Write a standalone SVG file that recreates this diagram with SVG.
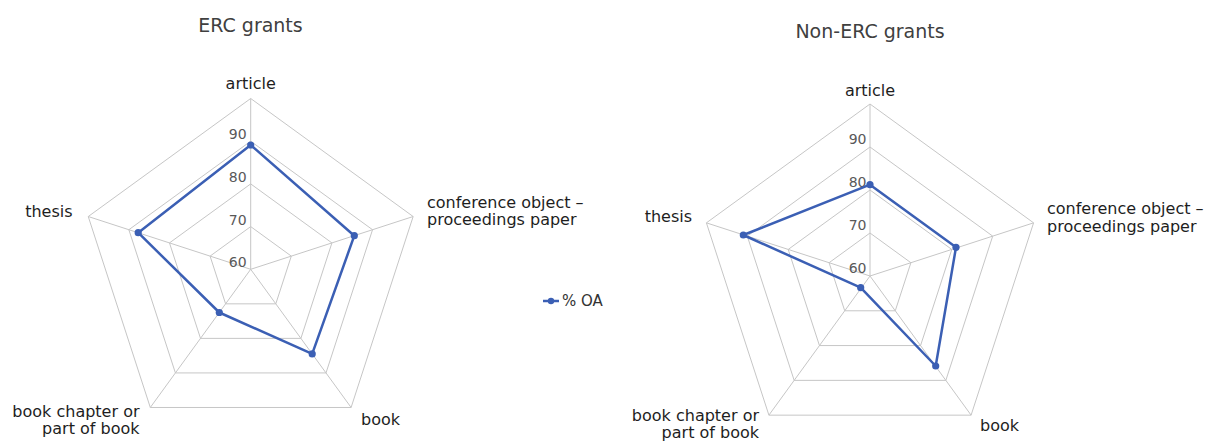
<svg xmlns="http://www.w3.org/2000/svg" width="1209" height="442" viewBox="0 0 1209 442">
<style>
.grid{fill:none;stroke:#c6c6c6;stroke-width:1}
.series{fill:none;stroke:#3b5fb4;stroke-width:2.5;stroke-linejoin:round}
.dot{fill:#3b5fb4}
.title{font-family:"DejaVu Sans",sans-serif;font-size:19px;fill:#404040;text-anchor:middle}
.cat{font-family:"DejaVu Sans",sans-serif;font-size:16px;fill:#1e1e1e}
.ax{font-family:"DejaVu Sans",sans-serif;font-size:14px;fill:#595959;text-anchor:end}
.leg{font-family:"DejaVu Sans",sans-serif;font-size:15px;fill:#333333}
</style>
<rect width="1209" height="442" fill="#ffffff"/>

<g id="chart-erc">
  <text class="title" x="250.5" y="32">ERC grants</text>
  <g transform="translate(250.7,269.3)">
    <g class="grid">
      <polygon points="0,-42.7 40.61,-13.19 25.10,34.54 -25.10,34.54 -40.61,-13.19"/>
      <polygon points="0,-85.4 81.22,-26.39 50.20,69.09 -50.20,69.09 -81.22,-26.39"/>
      <polygon points="0,-128.1 121.84,-39.58 75.30,103.63 -75.30,103.63 -121.84,-39.58"/>
      <polygon points="0,-170.8 162.45,-52.78 100.40,138.18 -100.40,138.18 -162.45,-52.78"/>
      <line x1="0" y1="0" x2="0" y2="-170.8"/>
      <line x1="0" y1="0" x2="162.45" y2="-52.78"/>
      <line x1="0" y1="0" x2="100.40" y2="138.18"/>
      <line x1="0" y1="0" x2="-100.40" y2="138.18"/>
      <line x1="0" y1="0" x2="-162.45" y2="-52.78"/>
    </g>
    <text class="ax" x="-4" y="-2">60</text>
    <text class="ax" x="-4" y="-44.5">70</text>
    <text class="ax" x="-4" y="-87.2">80</text>
    <text class="ax" x="-4" y="-130">90</text>
    <g id="series-erc">
      <polygon class="series" points="0,-124.3 103.6,-33.6 61.5,84.6 -31.4,43.2 -112.5,-36.6"/>
      <circle class="dot" cx="0" cy="-124.3" r="3.6"/>
      <circle class="dot" cx="103.6" cy="-33.6" r="3.6"/>
      <circle class="dot" cx="61.5" cy="84.6" r="3.6"/>
      <circle class="dot" cx="-31.4" cy="43.2" r="3.6"/>
      <circle class="dot" cx="-112.5" cy="-36.6" r="3.6"/>
    </g>
  </g>
  <text class="cat" x="250.7" y="89" text-anchor="middle">article</text>
  <text class="cat" x="427" y="208">conference object –</text>
  <text class="cat" x="427" y="225">proceedings paper</text>
  <text class="cat" x="361" y="425">book</text>
  <text class="cat" x="139.5" y="416.5" text-anchor="end">book chapter or</text>
  <text class="cat" x="139.5" y="434" text-anchor="end">part of book</text>
  <text class="cat" x="72.5" y="217" text-anchor="end">thesis</text>
</g>

<g id="chart-non-erc">
  <text class="title" x="870" y="38">Non-ERC grants</text>
  <g transform="translate(870,276)">
    <g class="grid">
      <polygon points="0,-43 40.90,-13.29 25.28,34.79 -25.28,34.79 -40.90,-13.29"/>
      <polygon points="0,-86 81.79,-26.57 50.55,69.57 -50.55,69.57 -81.79,-26.57"/>
      <polygon points="0,-129 122.69,-39.86 75.83,104.36 -75.83,104.36 -122.69,-39.86"/>
      <polygon points="0,-172 163.59,-53.15 101.10,139.15 -101.10,139.15 -163.59,-53.15"/>
      <line x1="0" y1="0" x2="0" y2="-172"/>
      <line x1="0" y1="0" x2="163.59" y2="-53.15"/>
      <line x1="0" y1="0" x2="101.10" y2="139.15"/>
      <line x1="0" y1="0" x2="-101.10" y2="139.15"/>
      <line x1="0" y1="0" x2="-163.59" y2="-53.15"/>
    </g>
    <text class="ax" x="-3.5" y="-2.7">60</text>
    <text class="ax" x="-3.5" y="-45.7">70</text>
    <text class="ax" x="-3.5" y="-88.7">80</text>
    <text class="ax" x="-3.5" y="-131.7">90</text>
    <g id="series-non-erc">
      <polygon class="series" points="0,-91.3 86,-28.7 65.7,90 -9.3,11.7 -126.7,-41"/>
      <circle class="dot" cx="0" cy="-91.3" r="3.6"/>
      <circle class="dot" cx="86" cy="-28.7" r="3.6"/>
      <circle class="dot" cx="65.7" cy="90" r="3.6"/>
      <circle class="dot" cx="-9.3" cy="11.7" r="3.6"/>
      <circle class="dot" cx="-126.7" cy="-41" r="3.6"/>
    </g>
  </g>
  <text class="cat" x="870" y="96" text-anchor="middle">article</text>
  <text class="cat" x="1047" y="214">conference object –</text>
  <text class="cat" x="1047" y="232">proceedings paper</text>
  <text class="cat" x="980" y="431">book</text>
  <text class="cat" x="759" y="421" text-anchor="end">book chapter or</text>
  <text class="cat" x="759" y="438" text-anchor="end">part of book</text>
  <text class="cat" x="692" y="222" text-anchor="end">thesis</text>
</g>

<g id="legend">
  <line x1="543" y1="301" x2="559" y2="301" stroke="#3b5fb4" stroke-width="2.5"/>
  <circle class="dot" cx="551" cy="301" r="3.2"/>
  <text class="leg" x="562" y="306">% OA</text>
</g>
</svg>
